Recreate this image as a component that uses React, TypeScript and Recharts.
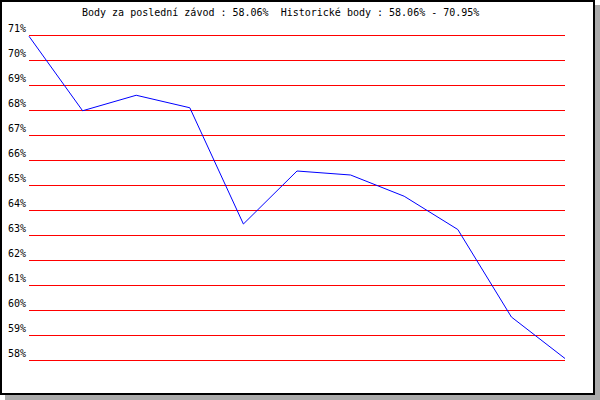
import { LineChart, Line, XAxis, YAxis, CartesianGrid } from "recharts";

// body po jednotlivých závodech
const races = [0, 1, 2, 3, 4, 5, 6, 7, 8, 9, 10];
const points = [70.95, 67.97, 68.59, 68.09, 63.44, 65.56, 65.4, 64.55, 63.22, 59.72, 58.06];
const yTicks = [58, 59, 60, 61, 62, 63, 64, 65, 66, 67, 68, 69, 70, 71];

const title = "Body za poslední závod : 58.06%  Historické body : 58.06% - 70.95%";

const data = races.map((r, i) => ({ race: r, body: points[i] }));

const font = "'DejaVu Sans Mono', monospace";

function PctTick({ y, payload }: any) {
    return (
        <text x={26} y={y - 3} textAnchor="end" fontSize={10} fontFamily={font} fill="#000">
            {payload.value}%
        </text>
    );
}

export default function App() {
    return (
        <div style={{ position: "absolute", left: 0, top: 0, width: 600, height: 400, background: "#fff" }}>
            <div
                style={{
                    position: "absolute",
                    left: 0,
                    top: 0,
                    width: 595,
                    height: 395,
                    boxSizing: "border-box",
                    border: "2px solid #000",
                    boxShadow: "5px 5px 0 #aaaaaa",
                    background: "#fff",
                }}
            />
            <div
                style={{
                    position: "absolute",
                    left: 82,
                    top: 7,
                    fontFamily: font,
                    fontSize: 10,
                    whiteSpace: "pre",
                    color: "#000",
                }}
            >
                {title}
            </div>
            <div style={{ position: "absolute", left: 0, top: 0 }}>
                <LineChart width={595} height={395} data={data} margin={{ top: 35, right: 30, bottom: 35, left: 0 }}>
                    <CartesianGrid horizontal vertical={false} stroke="#ff0000" shapeRendering="crispEdges" />
                    <XAxis type="number" dataKey="race" domain={[0, 10]} hide />
                    <YAxis
                        domain={[58, 71]}
                        ticks={yTicks}
                        interval={0}
                        width={29}
                        axisLine={false}
                        tickLine={false}
                        tick={<PctTick />}
                    />
                    <Line
                        type="linear"
                        dataKey="body"
                        stroke="#0000ff"
                        strokeWidth={1}
                        dot={false}
                        isAnimationActive={false}
                    />
                </LineChart>
            </div>
        </div>
    );
}
